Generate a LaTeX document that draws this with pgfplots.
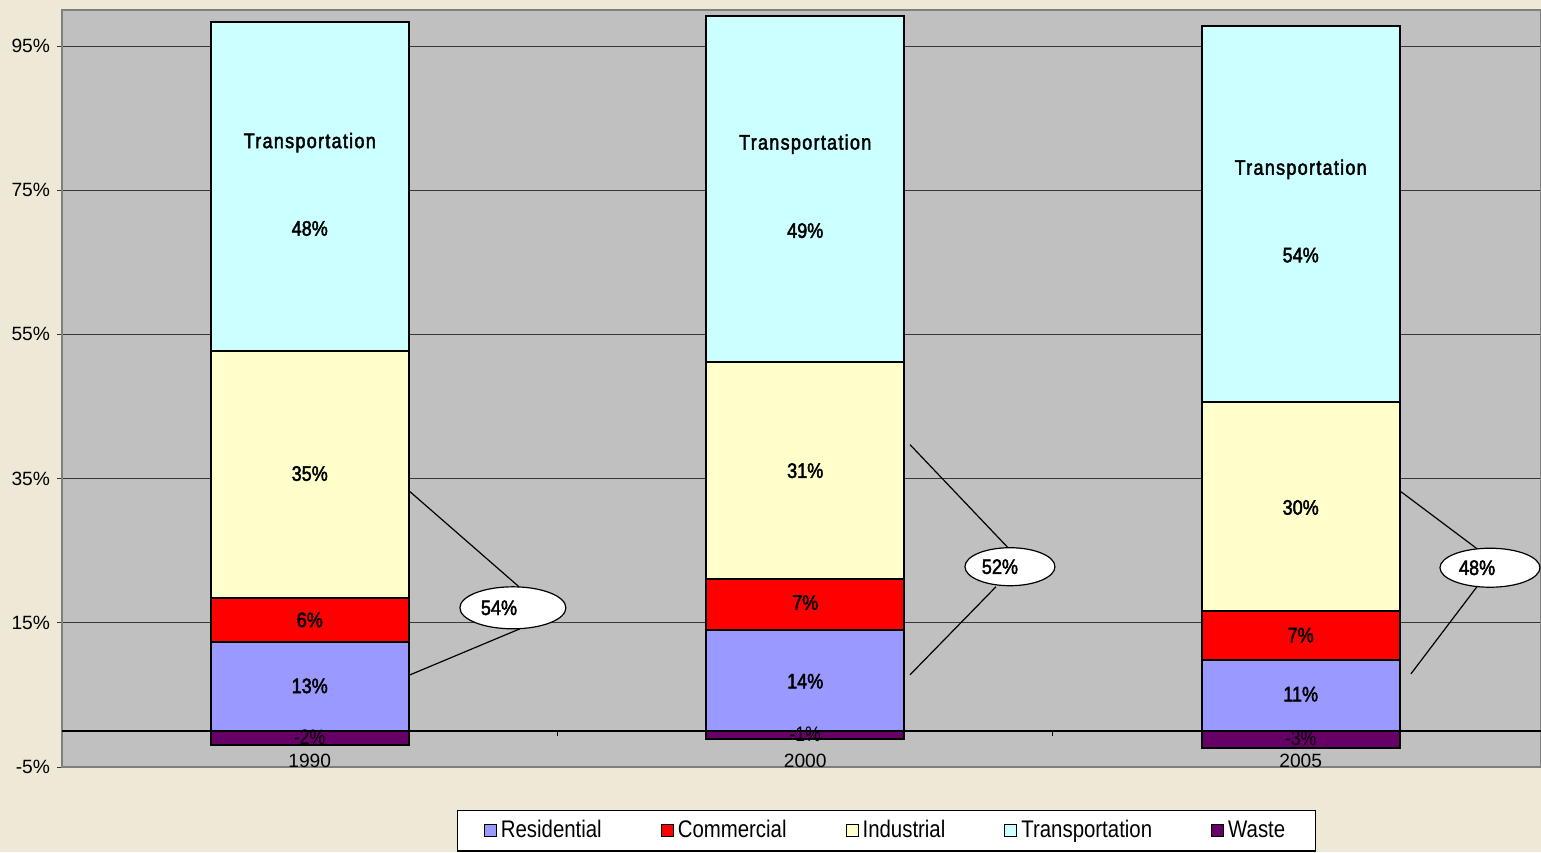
\documentclass[border=0pt]{standalone}
\usepackage{fontspec}
\setmainfont{Liberation Sans}
\newfontfamily\narrowfont[FakeStretch=0.85]{Liberation Sans}
\newfontfamily\boldish[FakeBold=2.2, FakeStretch=0.86]{Liberation Sans}
\newfontfamily\boldwide[FakeBold=2.2, FakeStretch=0.86, LetterSpace=6]{Liberation Sans}
\newfontfamily\lblreg[FakeStretch=0.84]{Liberation Sans}
\usepackage{pgfplots}
\pgfplotsset{compat=1.18}
\usetikzlibrary{shapes.geometric}

\definecolor{resid}{HTML}{9999FF}
\definecolor{comm}{HTML}{FF0000}
\definecolor{indus}{HTML}{FFFFCC}
\definecolor{trans}{HTML}{CCFFFF}
\definecolor{waste}{HTML}{660066}
\definecolor{plotgray}{HTML}{C0C0C0}
\definecolor{bgbeige}{HTML}{EEE8D6}
\definecolor{framegray}{HTML}{7F7F7F}

% shared geometry of both axes
\pgfplotsset{
  chartframe/.style={
    at={(31pt,42.5pt)}, anchor=south west,
    scale only axis, width=739.5pt, height=378.5pt,
    xmin=-0.5, xmax=2.485, ymin=-5, ymax=100,
    bar width=0.4, clip=false,
  },
  segment/.style={draw=black, line width=1pt, fill=#1},
}

\newcommand{\barlbl}[1]{{\boldish\fontsize{10.5}{12}\selectfont #1}}
\newcommand{\namelbl}[1]{{\boldwide\fontsize{10.5}{12}\selectfont #1}}
\newcommand{\wastelbl}[1]{{\lblreg\fontsize{10.5}{12}\selectfont #1}}

\begin{document}
\begin{tikzpicture}
\useasboundingbox (0,0) rectangle (770.5pt,426pt);
\fill[bgbeige] (0,0) rectangle (770.5pt,426pt);

\begin{axis}[
  chartframe,
  ybar stacked,
  axis background/.style={fill=plotgray},
  axis line style={draw=framegray, line width=0.7pt},
  ytick={-5,15,35,55,75,95},
  yticklabels={-5\%,15\%,35\%,55\%,75\%,95\%},
  yticklabel style={font=\fontsize{9.6}{11}\selectfont},
  ymajorgrids, grid style={draw=black!78, line width=0.5pt},
  tick align=outside, major tick length=2.5pt,
  tick style={draw=black!80, line width=0.5pt},
  xtick={0,1,2}, xticklabels={1990,2000,2005},
  xtick style={draw=none},
  xticklabel style={font=\fontsize{9.6}{11}\selectfont, anchor=center, yshift=5.5pt},
  legend image code/.code={\draw[#1, draw=black, line width=0.5pt] (0pt,-3pt) rectangle (6pt,3pt);},
  legend columns=5,
  legend style={at={(0.5575,-0.0568)}, anchor=north, draw=black, fill=white,
    line width=0.6pt, font=\narrowfont\fontsize{12}{14}\selectfont,
    inner xsep=13pt, inner ysep=3pt,
    /tikz/every even column/.append style={column sep=27.5pt}},
]
\addplot[segment=resid] coordinates {(0,12.4) (1,14.0) (2,9.9)};
\addlegendentry{Residential}
\addplot[segment=comm] coordinates {(0,6.0) (1,7.1) (2,6.7)};
\addlegendentry{Commercial}
\addplot[segment=indus] coordinates {(0,34.3) (1,30.1) (2,29.0)};
\addlegendentry{Industrial}
\addplot[segment=trans] coordinates {(0,45.7) (1,47.9) (2,52.2)};
\addlegendentry{Transportation}
\addlegendimage{fill=waste}
\addlegendentry{Waste}

% zero line and category separators
\draw[black, line width=0.8pt] (axis cs:-0.5,0) -- (axis cs:2.485,0);
\draw[black, line width=0.5pt] (axis cs:0.5,0) -- ([yshift=-2.5pt]axis cs:0.5,0);
\draw[black, line width=0.5pt] (axis cs:1.5,0) -- ([yshift=-2.5pt]axis cs:1.5,0);

% callouts: industrial + residential
\draw[black, line width=0.6pt] (axis cs:0.2023,33.19) -- (axis cs:0.4223,20.0);
\draw[black, line width=0.6pt] (axis cs:0.2023,7.78) -- (axis cs:0.4243,14.17);
\node[ellipse, draw=black, fill=white, line width=0.6pt, minimum width=53pt, minimum height=21pt, inner sep=0pt] at (axis cs:0.410,17.08) {};

\draw[black, line width=0.6pt] (axis cs:1.2114,39.72) -- (axis cs:1.4092,25.42);
\draw[black, line width=0.6pt] (axis cs:1.2114,7.78) -- (axis cs:1.3850,20.0);
\node[ellipse, draw=black, fill=white, line width=0.6pt, minimum width=45pt, minimum height=19pt, inner sep=0pt] at (axis cs:1.4132,22.78) {};

\draw[black, line width=0.6pt] (axis cs:2.2023,33.19) -- (axis cs:2.3557,25.28);
\draw[black, line width=0.6pt] (axis cs:2.3557,20.0) -- (axis cs:2.2225,7.92);
\node[ellipse, draw=black, fill=white, line width=0.6pt, minimum width=50pt, minimum height=19.5pt, inner sep=0pt] at (axis cs:2.382,22.64) {};
\end{axis}

% waste drawn separately, below zero; all text labels go on top here
\begin{axis}[
  chartframe,
  ybar, bar shift=0pt,
  hide axis,
]
\addplot[segment=waste] coordinates {(0,-1.9) (1,-1.1) (2,-2.4)};
\node at (axis cs:0,-0.83) {\wastelbl{-2\%}};
\node at (axis cs:1,-0.4) {\wastelbl{-1\%}};
\node at (axis cs:2,-1.0) {\wastelbl{-3\%}};

\node at (axis cs:0,81.6) {\namelbl{Transportation}};
\node at (axis cs:0,69.7) {\barlbl{48\%}};
\node at (axis cs:0,35.7) {\barlbl{35\%}};
\node at (axis cs:0,15.4) {\barlbl{6\%}};
\node at (axis cs:0,6.25) {\barlbl{13\%}};
\node at (axis cs:1,81.4) {\namelbl{Transportation}};
\node at (axis cs:1,69.4) {\barlbl{49\%}};
\node at (axis cs:1,36.1) {\barlbl{31\%}};
\node at (axis cs:1,17.8) {\barlbl{7\%}};
\node at (axis cs:1,6.9) {\barlbl{14\%}};
\node at (axis cs:2,77.9) {\namelbl{Transportation}};
\node at (axis cs:2,66.0) {\barlbl{54\%}};
\node at (axis cs:2,31.0) {\barlbl{30\%}};
\node at (axis cs:2,13.3) {\barlbl{7\%}};
\node at (axis cs:2,5.1) {\barlbl{11\%}};

\node at (axis cs:0.382,17.08) {\barlbl{54\%}};
\node at (axis cs:1.393,22.78) {\barlbl{52\%}};
\node at (axis cs:2.356,22.64) {\barlbl{48\%}};
\end{axis}
\end{tikzpicture}
\end{document}
